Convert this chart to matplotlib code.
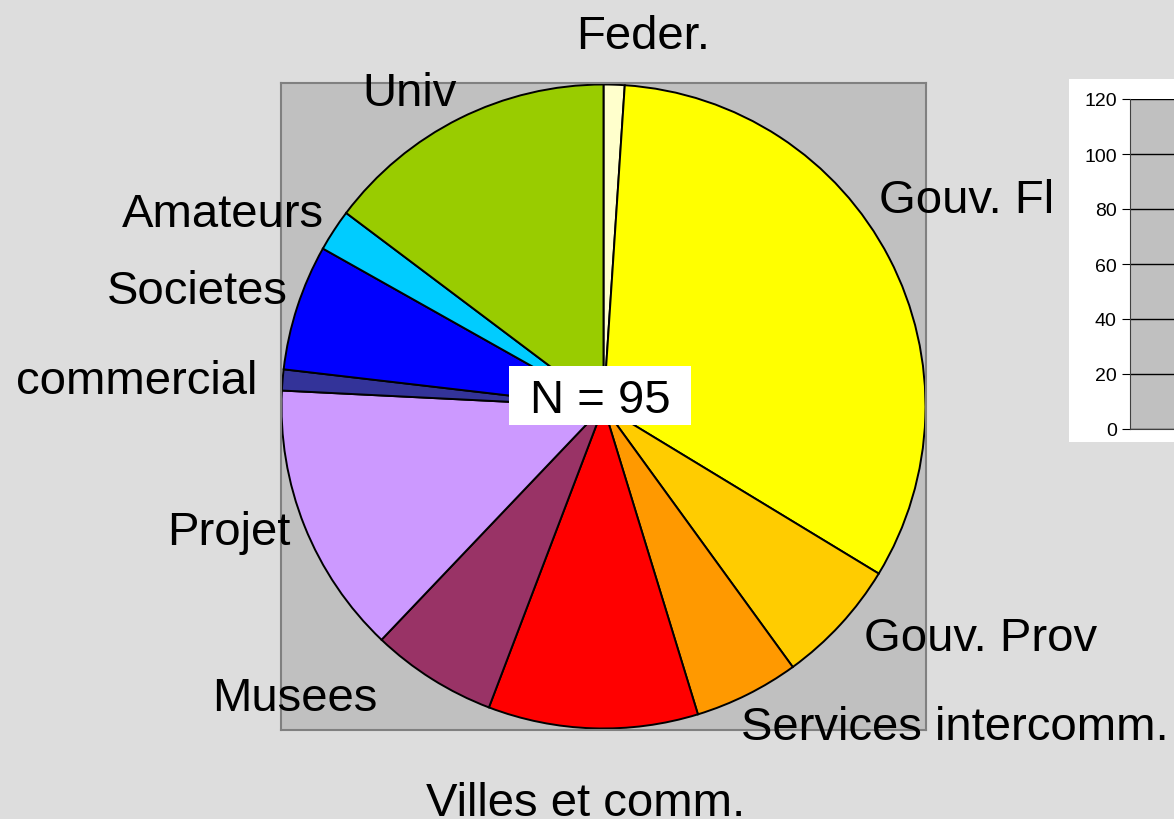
import matplotlib
matplotlib.use("Agg")
import matplotlib.pyplot as plt
from matplotlib.patches import Rectangle

# Pie data (N = 95), clockwise from 12 o'clock
categories = ["Feder.", "Gouv. Fl", "Gouv. Prov", "Services intercomm.",
              "Villes et comm.", "Musees", "Projet", "commercial",
              "Societes", "Amateurs", "Univ"]
counts = [1, 31, 6, 5, 10, 6, 13, 1, 6, 2, 14]
colors = ["#FFFFCC", "#FFFF00", "#FFCC00", "#FF9900", "#FF0000", "#993366",
          "#CC99FF", "#333399", "#0000FF", "#00CCFF", "#99CC00"]

# Label anchors in pixels of the original 1174x820 picture
label_px = [(643, 37), (967, 201), (981, 639), (955, 728), (586, 804),
            (295, 699), (229, 533), (137, 382), (197, 292), (223, 215),
            (410, 94)]

# Side chart axis
side_ticks = [0, 20, 40, 60, 80, 100, 120]

W, H = 1174, 820
BG = "#DDDDDD"
plt.rcParams["font.family"] = ["Liberation Sans", "DejaVu Sans"]

fig = plt.figure(figsize=(W / 100, H / 100), dpi=100, facecolor=BG)


def fx(px):
    return px / W


def fy(py):
    return 1 - py / H


# ---- pie ---------------------------------------------------------------
box_l, box_t, box_r, box_b = 281, 84, 926, 731
ax = fig.add_axes([fx(box_l), fy(box_b), fx(box_r - box_l),
                   (box_b - box_t) / H])

cx, cy, r = 603.5, 407.5, 322.0
ax.pie(counts, colors=colors, startangle=90, counterclock=False,
       radius=1.0, center=(0, 0),
       wedgeprops=dict(edgecolor="black", linewidth=1.4))
ax.set_frame_on(True)
ax.set_facecolor("#C0C0C0")
for s in ax.spines.values():
    s.set_visible(True)
    s.set_color("#808080")
    s.set_linewidth(1.5)
ax.set_xticks([])
ax.set_yticks([])
ax.set_aspect("auto")
ax.set_xlim((box_l - cx) / r, (box_r - cx) / r)
ax.set_ylim((cy - box_b) / r, (cy - box_t) / r)

for name, (px, py) in zip(categories, label_px):
    fig.text(fx(px), fy(py), name, fontsize=34, ha="center", va="center",
             color="black")

# "N = 95" caption on a white box
fig.patches.append(Rectangle((fx(509), fy(426)), fx(691 - 509),
                             (426 - 367) / H, transform=fig.transFigure,
                             facecolor="white", edgecolor="none", zorder=3))
fig.text(fx(600), fy(413), "N = 95", fontsize=34, ha="center",
         va="baseline", color="black", zorder=4)

# ---- partial chart on the right ----------------------------------------
fig.patches.append(Rectangle((fx(1069), fy(443)), fx(W - 1069) + 0.01,
                             (443 - 80) / H, transform=fig.transFigure,
                             facecolor="white", edgecolor="none", zorder=-5))
ax2 = fig.add_axes([fx(1130), fy(430), fx(200), (430 - 100) / H])
ax2.set_zorder(2)
ax2.set_facecolor("#C0C0C0")
ax2.set_ylim(0, 120)
ax2.set_xlim(0, 1)
ax2.set_yticks(side_ticks)
ax2.tick_params(axis="y", labelsize=14, length=6, direction="out",
                colors="black")
ax2.set_xticks([])
ax2.yaxis.grid(True, color="black", linewidth=1)
ax2.set_axisbelow(True)
for side in ("top", "right"):
    ax2.spines[side].set_visible(False)
ax2.spines["left"].set_color("#404040")
ax2.spines["bottom"].set_color("#404040")

fig.savefig("out.png", dpi=100, facecolor=BG)
